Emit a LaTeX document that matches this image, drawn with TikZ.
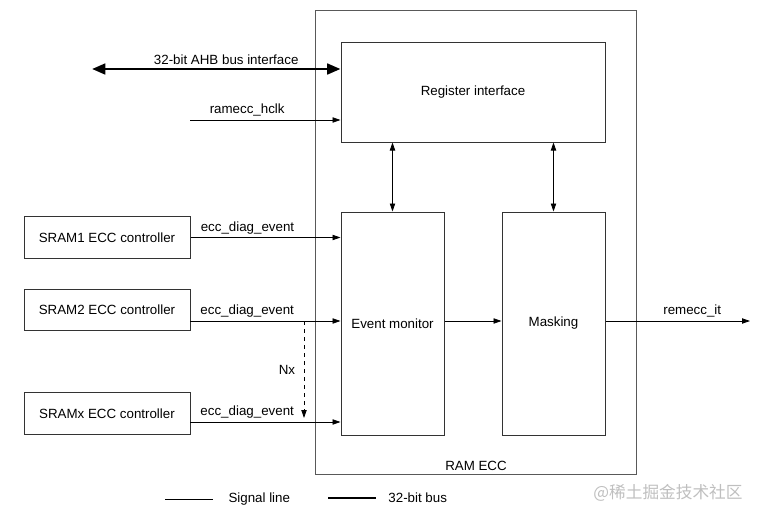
\documentclass[tikz,border=0pt]{standalone}
\usepackage{fontspec}
\setmainfont{Liberation Sans}
\newfontfamily\cjkfont{Noto Sans CJK SC}
\usetikzlibrary{arrows.meta}

\tikzset{
  blk/.style 2 args={draw=black!80, line width=0.75pt, minimum width=#1, minimum height=#2, inner sep=0pt},
  sig/.style={-{Triangle[length=6pt,width=4pt]}, line width=0.6pt},
  bisig/.style={{Triangle[length=6pt,width=4pt]}-{Triangle[length=6pt,width=4pt]}, line width=0.6pt},
  bus/.style={{Triangle[length=10pt,width=8pt]}-{Triangle[length=10pt,width=8pt]}, line width=2pt},
  lbl/.style={above, inner sep=2.5pt}
}

\begin{document}
\begin{tikzpicture}[x=0.75pt, y=-0.75pt, font=\fontsize{10}{12}\selectfont]
\useasboundingbox (0,0) rectangle (761,518);

% RAM ECC block and its parts
\node[blk={240.75pt}{348pt}, draw=black!65] (ramecc) at (475.5,242) {};
\node (ramlbl) at (476,466) {RAM ECC};
\node[blk={198pt}{75pt}] (reg) at (473,92) {Register interface};
\node[blk={77.25pt}{167.25pt}] (evmon) at (392.5,323.5) {Event monitor};
\node[blk={77.25pt}{167.25pt}] (mask) at (553.5,323.5) {Masking};

% SRAM controllers
\node[blk={124.5pt}{31pt}] (sram1) at (107,237.5) {SRAM1 ECC controller};
\node[blk={124.5pt}{31pt}] (sram2) at (107,310) {SRAM2 ECC controller};
\node[blk={124.5pt}{31pt}] (sramx) at (107,413.5) {SRAMx ECC controller};

\coordinate (ahbend) at (92,69);
\coordinate (clkin) at (190,120);
\coordinate (s2out) at (190,321);
\coordinate (sxout) at (190,422);
\coordinate (nxtop) at (304,321);
\coordinate (nxbot) at (304,418);
\coordinate (itout) at (750,321);

% buses and signals
\draw[bus] (ahbend) -- node[lbl, pos=0.54] (ahblbl) {32-bit AHB bus interface} (ahbend -| reg.west);
\draw[sig] (clkin) -- node[lbl, pos=0.38] (clklbl) {ramecc\_hclk} (clkin -| reg.west);
\draw[sig] (sram1.east) -- node[lbl, pos=0.38] (e1lbl) {ecc\_diag\_event} (sram1.east -| evmon.west);
\draw[sig] (s2out) -- node[lbl, pos=0.38] (e2lbl) {ecc\_diag\_event} (s2out -| evmon.west);
\draw[sig] (sxout) -- node[lbl, pos=0.38] (exlbl) {ecc\_diag\_event} (sxout -| evmon.west);
\draw[sig, dashed] (nxtop) -- node[left, xshift=-3pt] (nxlbl) {Nx} (nxbot);
\draw[bisig] (evmon.north) -- (evmon.north |- reg.south);
\draw[bisig] (mask.north) -- (mask.north |- reg.south);
\draw[sig] (evmon.east |- s2out) -- (mask.west |- s2out);
\draw[sig] (mask.east |- s2out) -- node[lbl, pos=0.6] (itlbl) {remecc\_it} (itout);

% legend
\coordinate (legsig) at (165,499);
\coordinate (legbus) at (328,498);
\draw[line width=0.6pt] (legsig) -- ++(48,0) node[right, xshift=8pt] (sigtxt) {Signal line};
\draw[line width=2pt] (legbus) -- ++(48,0) node[right, xshift=5pt] (bustxt) {32-bit bus};

\node[text=black!25, font=\cjkfont\fontsize{12.5}{14}\selectfont] (wmark) at (668,493) {@稀土掘金技术社区};
\end{tikzpicture}
\end{document}
